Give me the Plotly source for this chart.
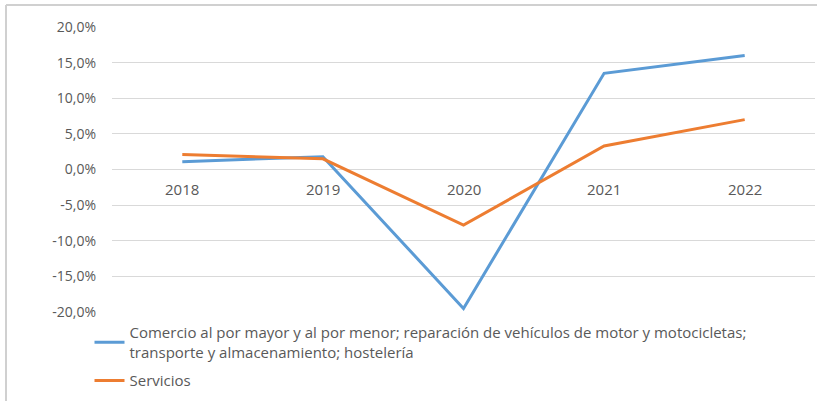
"""Variación anual: comercio/transporte/hostelería frente a servicios."""

import plotly.graph_objects as go

years = ["2018", "2019", "2020", "2021", "2022"]
comercio = [0.011, 0.018, -0.195, 0.135, 0.160]
servicios = [0.021, 0.015, -0.078, 0.033, 0.070]

tick_vals = [-0.20, -0.15, -0.10, -0.05, 0.0, 0.05, 0.10, 0.15, 0.20]
tick_text = ["-20,0%", "-15,0%", "-10,0%", "-5,0%", "0,0%", "5,0%", "10,0%", "15,0%", "20,0%"]

name_comercio = (
    "Comercio al por mayor y al por menor; reparación de vehículos de motor y motocicletas;"
    "<br>transporte y almacenamiento; hostelería"
)
name_servicios = "Servicios"

GRAY_TEXT = "#595959"
GRID = "#D9D9D9"
FONT = "'Open Sans', sans-serif"

fig = go.Figure()

fig.add_trace(
    go.Scatter(
        x=years,
        y=comercio,
        mode="lines",
        name=name_comercio,
        legendgroup="a",
        line=dict(color="#5B9BD5", width=3),
    )
)
fig.add_trace(
    go.Scatter(
        x=years,
        y=servicios,
        mode="lines",
        name=name_servicios,
        legendgroup="b",
        line=dict(color="#ED7D31", width=3),
    )
)

# Etiquetas del eje X sobre la línea del cero (como en Excel)
for i, yr in enumerate(years):
    fig.add_annotation(
        x=i,
        y=0,
        xref="x",
        yref="y",
        text=yr,
        showarrow=False,
        yanchor="top",
        yshift=-7,
        font=dict(family=FONT, size=15, color=GRAY_TEXT),
    )

# Marco exterior (solo borde superior e izquierdo visibles)
fig.add_shape(type="line", xref="paper", yref="paper", x0=-0.1508, x1=1.01, y0=1.077, y1=1.077,
              line=dict(color="#D0D0D0", width=2))
fig.add_shape(type="line", xref="paper", yref="paper", x0=-0.1508, x1=-0.1508, y0=1.077, y1=-0.32,
              line=dict(color="#D0D0D0", width=2))

fig.update_layout(
    width=817,
    height=401,
    margin=dict(l=112, r=2, t=27, b=89),
    paper_bgcolor="white",
    plot_bgcolor="white",
    font=dict(family=FONT, size=15, color=GRAY_TEXT),
    showlegend=True,
    legend=dict(
        x=-0.032,
        y=-0.015,
        xanchor="left",
        yanchor="top",
        orientation="v",
        font=dict(family=FONT, size=15, color=GRAY_TEXT),
        bgcolor="rgba(0,0,0,0)",
        tracegroupgap=6,
        itemwidth=30,
    ),
    xaxis=dict(
        type="category",
        range=[-0.5, len(years) - 0.5],
        showticklabels=False,
        showgrid=False,
        zeroline=False,
        showline=False,
        fixedrange=True,
    ),
    yaxis=dict(
        range=[-0.2, 0.2],
        tickvals=tick_vals,
        ticktext=tick_text,
        showgrid=True,
        gridcolor=GRID,
        gridwidth=1,
        zeroline=True,
        zerolinecolor=GRID,
        zerolinewidth=1,
        showline=False,
        ticks="",
        ticklabelstandoff=15,
        tickfont=dict(family=FONT, size=14, color=GRAY_TEXT),
        fixedrange=True,
    ),
)

fig.write_html(
    "out.html",
    config={"displayModeBar": False},
    post_script="document.body.style.margin='0';",
)
